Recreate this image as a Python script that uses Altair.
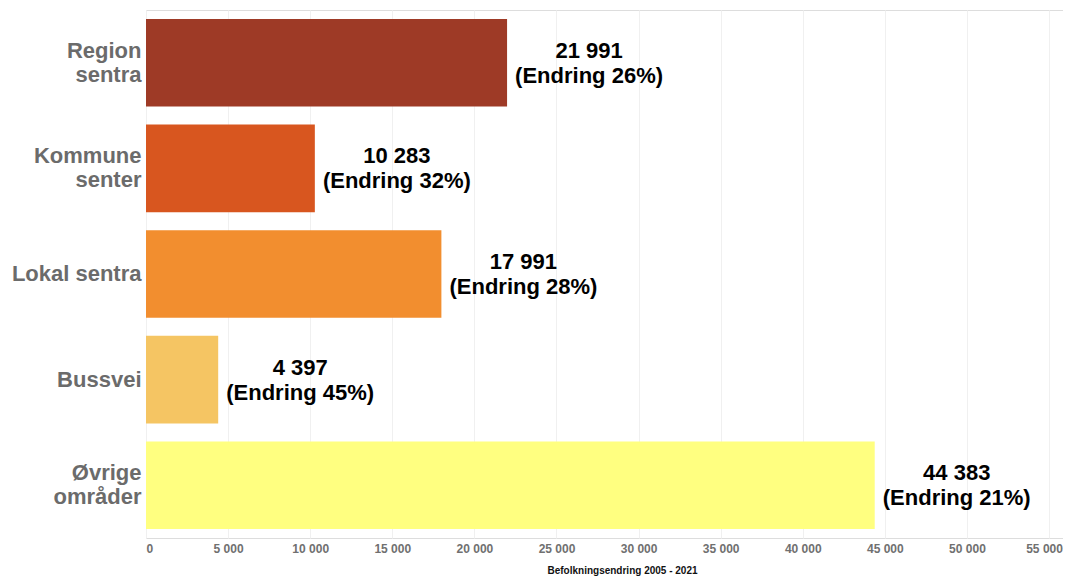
import altair as alt
import pandas as pd

categories = ["Region\nsentra", "Kommune\nsenter", "Lokal sentra", "Bussvei", "Øvrige\nområder"]
values = [21991, 10283, 17991, 4397, 44383]
changes = [26, 32, 28, 45, 21]
colors = ["#9E3A26", "#D8561F", "#F28E2F", "#F5C563", "#FFFF80"]

def fmt(v):
    return f"{v:,}".replace(",", " ")

df = pd.DataFrame({
    "cat": categories,
    "value": values,
    "label": [f"{fmt(v)}\n(Endring {c}%)" for v, c in zip(values, changes)],
})

y_enc = alt.Y("cat:N", sort=categories, title=None,
              scale=alt.Scale(paddingInner=0.17, paddingOuter=0.085),
              axis=alt.Axis(labelExpr="split(datum.label, '\\n')", labelFont="Liberation Sans",
                            labelFontSize=22, labelFontWeight="bold", labelColor="#6b6b6b",
                            labelLineHeight=24, labelPadding=5, ticks=False, domain=False,
                            grid=False, labelAlign="right",
                            labelOffset={"condition": {"test": "indexof(datum.label, '\\n') >= 0",
                                                       "value": -12}, "value": 0}))

x_enc = alt.X("value:Q", title="Befolkningsendring 2005 - 2021",
              scale=alt.Scale(domain=[0, 55850], nice=False, zero=True),
              axis=alt.Axis(values=list(range(0, 55001, 5000)),
                            labelExpr="replace(format(datum.value, ',d'), ',', ' ')",
                            labelFont="Liberation Sans", labelFontSize=12, labelFontWeight="bold",
                            labelColor="#707070", labelPadding=5, ticks=False, domain=False,
                            labelOffset={"condition": {"test": "datum.value >= 55000",
                                                       "value": -5}, "value": 0},
                            grid=True, gridColor="#f0f0f0", gridWidth=1,
                            titleFont="Liberation Sans", titleFontSize=10, titleFontWeight="bold",
                            titleColor="#111111", titleX=476, titleY=35, titleAlign="center",
                            titleBaseline="alphabetic", titleAnchor="start"))

bars = alt.Chart(df).mark_bar().encode(
    x=x_enc,
    y=y_enc,
    color=alt.Color("cat:N", scale=alt.Scale(domain=categories, range=colors), legend=None),
)

text = alt.Chart(df).mark_text(
    align="center", dx=82, dy=-12, lineBreak="\n", font="Liberation Sans", fontSize=22,
    fontWeight="bold", color="#000000", lineHeight=25, baseline="middle",
).encode(
    x="value:Q",
    y=alt.Y("cat:N", sort=categories),
    text="label:N",
)

chart = (bars + text).properties(
    width=917, height=528,
    autosize=alt.AutoSizeParams(type="none"),
    padding={"left": 138, "top": 2, "right": 0, "bottom": 38},
).configure_view(stroke=None).configure(background="white")

chart.save("out.html", embed_options={"renderer": "svg", "actions": False})
